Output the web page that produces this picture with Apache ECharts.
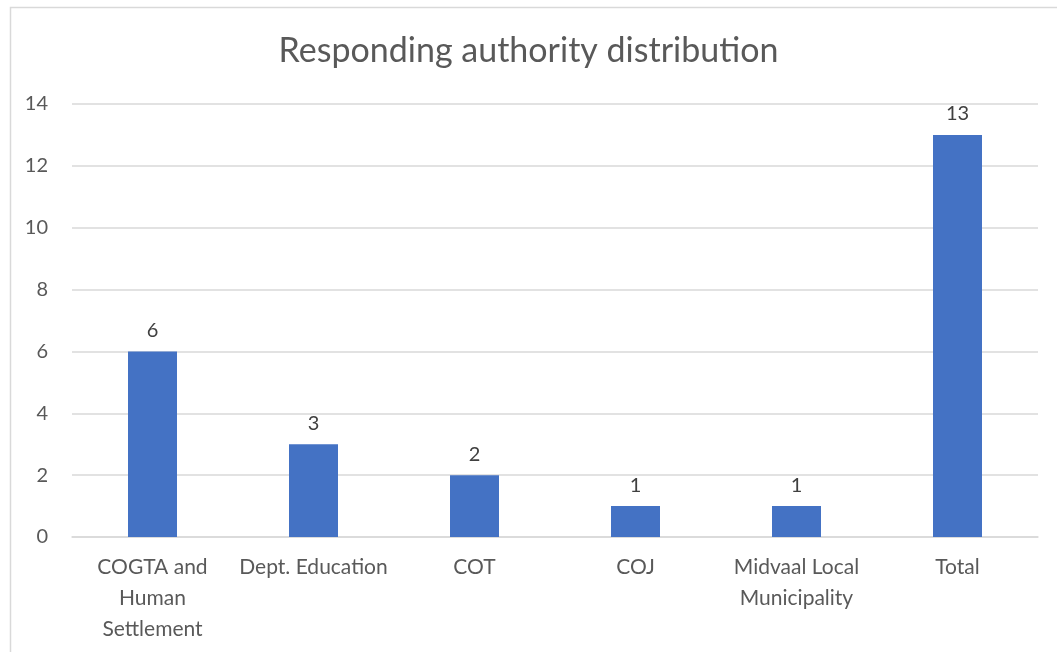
<!DOCTYPE html>
<html><head><meta charset="utf-8">
<script src="https://cdn.jsdelivr.net/npm/echarts@6/dist/echarts.min.js"></script>
<style>html,body{margin:0;padding:0;background:#fff}#c{width:1057px;height:652px}</style>
</head><body><div id="c"></div>
<script>
const categories = ['COGTA and\nHuman\nSettlement', 'Dept. Education', 'COT', 'COJ', 'Midvaal Local\nMunicipality', 'Total'];
const counts = [6, 3, 2, 1, 1, 13];
const titleText = 'Responding authority distribution';

const chart = echarts.init(document.getElementById('c'));
const FONT = 'Lato';
chart.setOption({
  backgroundColor: '#fff',
  animation: false,
  graphic: [{
    type: 'rect', left: 8, top: 5,
    shape: { width: 1100, height: 700 },
    style: { fill: 'none', stroke: '#d9d9d9', lineWidth: 1.5 }, silent: true, z: -1
  }],
  title: {
    text: titleText, left: 'center', top: 29,
    textStyle: { fontFamily: FONT, fontSize: 34, fontWeight: 'normal', color: '#595959' }
  },
  grid: { left: 72, right: 19, top: 104, bottom: 115, containLabel: false },
  xAxis: {
    type: 'category', data: categories,
    axisLine: { lineStyle: { color: '#d9d9d9', width: 1.5 } },
    axisTick: { show: false },
    axisLabel: { interval: 0, margin: 15, fontFamily: FONT, fontSize: 21, color: '#595959', lineHeight: 31 }
  },
  yAxis: {
    type: 'value', min: 0, max: 14, interval: 2,
    axisLine: { show: false }, axisTick: { show: false },
    splitLine: { lineStyle: { color: '#d9d9d9', width: 1.5 } },
    axisLabel: { margin: 24, fontFamily: FONT, fontSize: 20, color: '#595959' }
  },
  series: [{
    type: 'bar', data: counts, barWidth: 49,
    itemStyle: { color: '#4472c4' },
    label: { show: true, position: 'top', distance: 11, fontFamily: FONT, fontSize: 20, color: '#404040' }
  }]
});
</script></body></html>
